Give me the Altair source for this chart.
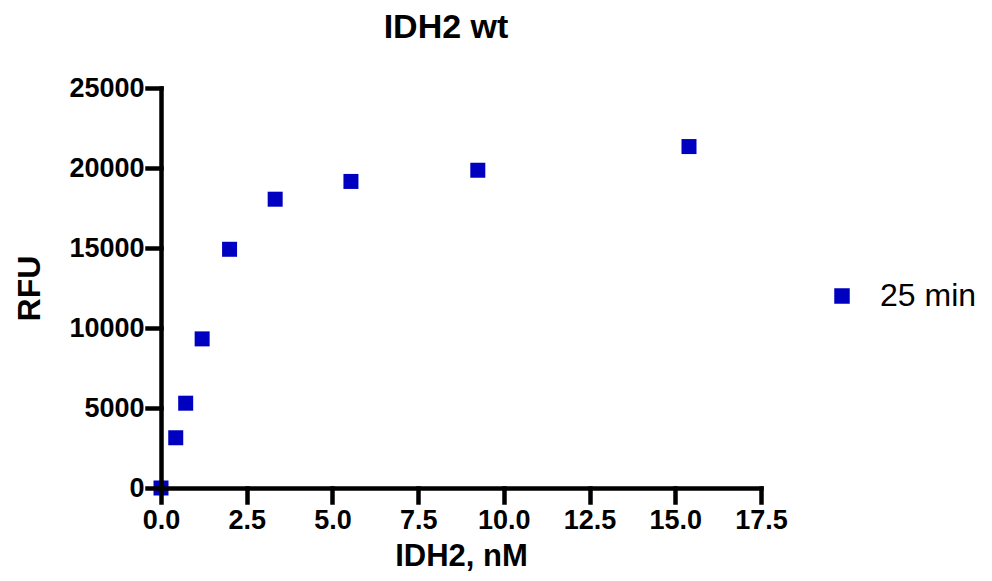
import altair as alt
import pandas as pd

conc_nM = [0.0, 0.43, 0.72, 1.2, 2.0, 3.33, 5.54, 9.24, 15.4]
rfu = [0, 3140, 5300, 9320, 14920, 18050, 19160, 19860, 21340]
series = ["25 min"] * len(conc_nM)
x_ticks = [0, 2.5, 5, 7.5, 10, 12.5, 15, 17.5]
y_ticks = [0, 5000, 10000, 15000, 20000, 25000]

df = pd.DataFrame({"conc": conc_nM, "rfu": rfu, "series": series})

FONT = "Liberation Sans"

axis_common = dict(
    domainColor="black", domainWidth=4.5, tickColor="black", tickWidth=4.5,
    tickSize=14, labelFont=FONT, labelFontWeight="bold", labelFontSize=27,
    labelColor="black", titleFont=FONT, titleFontWeight="bold",
    titleColor="black", grid=False, zindex=1, tickCap="square", domainCap="square",
    labelFlush=False, labelOverlap=False, labelBound=False,
)

chart = alt.Chart(df).mark_point(shape="square", filled=True, opacity=1, size=225).encode(
    x=alt.X("conc:Q", title="IDH2, nM",
            scale=alt.Scale(domain=[0, 17.5], nice=False, zero=False),
            axis=alt.Axis(values=x_ticks, format=".1f", labelPadding=5, titlePadding=8,
                          titleFontSize=31, **axis_common)),
    y=alt.Y("rfu:Q", title="RFU",
            scale=alt.Scale(domain=[0, 25000], nice=False),
            axis=alt.Axis(values=y_ticks, format="d", labelPadding=3, titlePadding=22,
                          titleFontSize=32, **axis_common)),
    color=alt.Color("series:N", scale=alt.Scale(range=["#0000C0"]),
                    legend=alt.Legend(title=None, orient="none", legendX=665, legendY=192,
                                      labelFont=FONT, labelFontSize=32, labelColor="black",
                                      symbolSize=240, symbolType="square",
                                      symbolStrokeWidth=0, labelOffset=22)),
).properties(
    width=600, height=400,
    title=alt.TitleParams("IDH2 wt", font=FONT, fontSize=34, fontWeight="bold",
                          color="black", dx=-15, offset=29),
    autosize=alt.AutoSizeParams(type="none"),
    padding={"left": 153, "top": 80, "right": 223, "bottom": 85},
).configure(background="white").configure_view(strokeWidth=0, stroke="transparent")

chart.save("out.html", embed_options={"renderer": "svg", "actions": False})
